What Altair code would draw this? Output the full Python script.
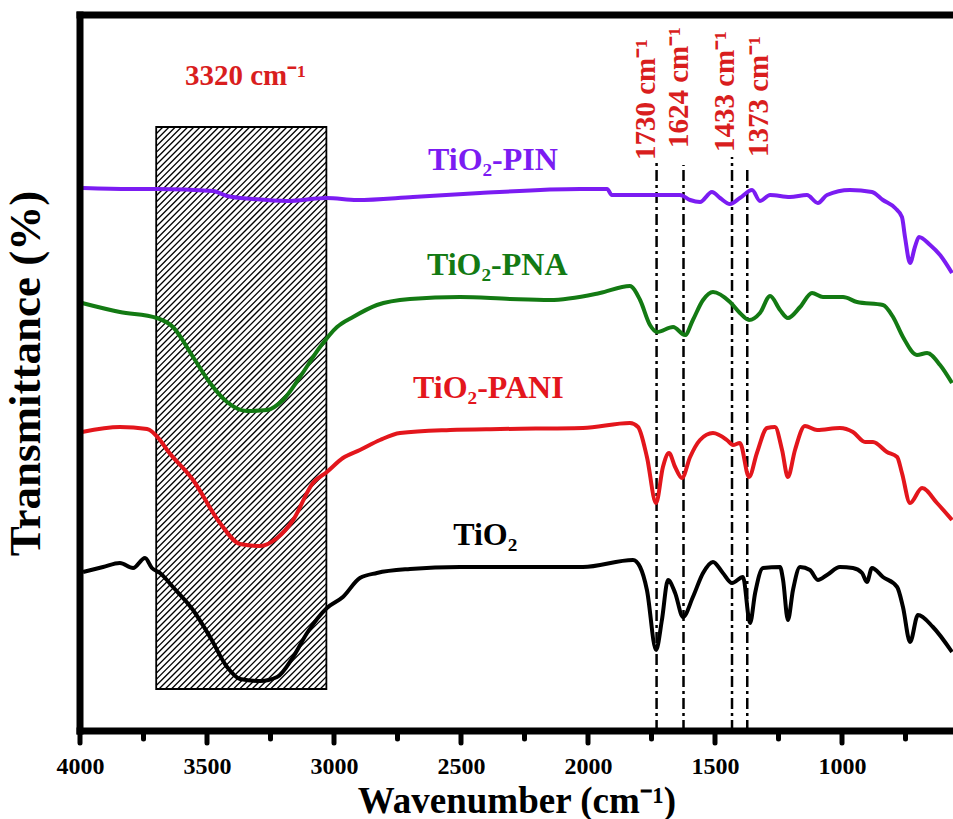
import altair as alt
import pandas as pd

# ---------------- data ----------------
series_names = ["TiO₂-PIN", "TiO₂-PNA", "TiO₂-PANI", "TiO₂"]
series_colors = ["#7B1CF2", "#137A13", "#E3161C", "#000000"]

wn_tio2 = [3988, 3909, 3843, 3791, 3744, 3717, 3685, 3634, 3555, 3488, 3421, 3370, 3291, 3224,
           3161, 3106, 3028, 2965, 2898, 2831, 2701, 2504, 2307, 2020, 1823, 1795, 1768, 1732,
           1709, 1685, 1657, 1626, 1587, 1547, 1508, 1469, 1433, 1390, 1362, 1342, 1311, 1244,
           1232, 1213, 1193, 1165, 1126, 1095, 1059, 1008, 957, 921, 902, 882, 839, 783, 760,
           732, 701, 642, 567]
t_tio2 = [159, 164, 168, 163, 173, 163, 158, 144, 121, 94, 64, 52, 50, 54,
          74, 98, 123, 134, 153, 158, 162, 164, 164, 164, 171, 164, 141, 81,
          111, 151, 138, 114, 134, 158, 169, 158, 148, 154, 108, 138, 163, 164,
          151, 111, 141, 164, 161, 151, 156, 164, 163, 158, 149, 163, 154, 144, 124,
          89, 116, 104, 79]

wn_pani = [3992, 3843, 3736, 3685, 3657, 3555, 3449, 3370, 3291, 3224, 3161, 3083, 3028, 2965,
           2898, 2819, 2740, 2543, 2346, 2020, 1835, 1803, 1768, 1732, 1705, 1681, 1657, 1630,
           1598, 1559, 1508, 1453, 1429, 1402, 1366, 1335, 1295, 1264, 1236, 1213, 1185, 1146,
           1098, 1008, 957, 909, 878, 823, 783, 764, 732, 685, 626, 567]
t_pani = [299, 304, 302, 291, 281, 251, 208, 187, 185, 193, 211, 248, 259, 273,
          281, 291, 298, 301, 302, 303, 308, 304, 274, 228, 264, 278, 264, 253,
          274, 291, 298, 291, 286, 288, 254, 278, 303, 304, 281, 254, 281, 305,
          301, 303, 299, 289, 289, 279, 274, 258, 228, 243, 228, 211]

wn_pna = [3992, 3843, 3697, 3634, 3555, 3488, 3421, 3343, 3264, 3201, 3134, 3055, 2988, 2925,
          2831, 2701, 2504, 2307, 2150, 1953, 1835, 1795, 1756, 1728, 1665, 1618, 1587, 1547,
          1508, 1441, 1402, 1366, 1323, 1283, 1244, 1213, 1165, 1118, 1075, 996, 941, 839,
          799, 760, 705, 665, 614, 567]
t_pna = [428, 419, 413, 404, 374, 348, 329, 320, 321, 331, 354, 384, 404, 414,
         426, 432, 434, 432, 431, 438, 445, 431, 406, 399, 404, 396, 411, 431,
         439, 429, 418, 411, 418, 435, 421, 413, 424, 438, 434, 434, 429, 426,
         414, 394, 376, 378, 366, 348]

wn_pin = [3988, 3803, 3697, 3476, 3421, 3319, 3185, 3028, 2910, 2689, 2425, 2031, 1925, 1906,
          1638, 1598, 1559, 1512, 1480, 1441, 1402, 1354, 1323, 1283, 1205, 1138, 1095, 1059,
          969, 882, 839, 791, 764, 752, 732, 713, 697, 653, 614, 567]
t_pin = [543, 542, 542, 540, 535, 532, 530, 533, 531, 534, 538, 542, 542, 536,
         536, 531, 529, 539, 533, 527, 533, 541, 530, 536, 534, 536, 528, 536,
         541, 539, 531, 523, 514, 494, 468, 484, 494, 486, 476, 458]

label_x = [2630, 2634, 2689, 2531]
label_y = [561, 456, 333, 186]

peak_wn = [1730, 1624, 1433, 1373]
peak_rule_top = [569, 566, 574, 561]
peak_text = ["1730 cm⁻¹", "1624 cm⁻¹", "1433 cm⁻¹", "1373 cm⁻¹"]
peak_text_x = [1772, 1642, 1461, 1327]
peak_text_y = [571, 583, 579, 574]

band_text = "3320 cm⁻¹"
band_text_x = 3587
band_text_y = 646
band_x = [3700, 3030]
band_y = [42, 604]

major_ticks = [4000, 3500, 3000, 2500, 2000, 1500, 1000]
minor_ticks = [3750, 3250, 2750, 2250, 1750, 1250, 750]

# ---------------- layout ----------------
X_MAX, X_MIN = 4000, 563
Y_LOW, Y_TOP = -20, 716          # frame runs from 0 to 716; below 0 is room for the ticks
W, H = 873, 736
FONT = "Liberation Serif"
RED = "#D91E1E"

xscale = alt.Scale(domain=[X_MAX, X_MIN], nice=False, zero=False)
yscale = alt.Scale(domain=[Y_LOW, Y_TOP], nice=False, zero=False)
cscale = alt.Scale(domain=series_names, range=series_colors)

rows = []
for name, wn, t in zip(series_names, [wn_pin, wn_pna, wn_pani, wn_tio2],
                       [t_pin, t_pna, t_pani, t_tio2]):
    for a, b in zip(wn, t):
        rows.append({"series": name, "wn": a, "t": b})
spectra = pd.DataFrame(rows)

x_axis = alt.Axis(values=major_ticks, format="d", labelFont=FONT, labelFontWeight="bold",
                  labelFontSize=24, labelColor="black", labelFlush=False,
                  labelBaseline="alphabetic", labelPadding=22,
                  ticks=False, tickSize=0, domain=False, grid=False,
                  title="Wavenumber (cm⁻¹)", titleFont=FONT, titleFontWeight="bold",
                  titleFontSize=37, titleColor="black", titleBaseline="alphabetic",
                  titleX=W / 2, titleY=61)
y_axis = alt.Axis(ticks=False, labels=False, grid=False, domain=False,
                  title="Transmittance (%)", titleFont=FONT,
                  titleFontWeight="bold", titleFontSize=45, titleColor="black",
                  titleX=-32, titleY=358)

# hatch pattern for the band (decoration) in data space
k = W / (X_MAX - X_MIN)
u0, u1 = (X_MAX - band_x[0]) * k, (X_MAX - band_x[1]) * k
y0, y1 = band_y
spacing = 6.2
hatch = []
c = y0 - u1
while c < y1 - u0:
    ua = max(u0, y0 - c)
    ub = min(u1, y1 - c)
    if ua < ub:
        hatch.append({"xa": X_MAX - ua / k, "ya": ua + c, "xb": X_MAX - ub / k, "yb": ub + c})
    c += spacing
hatch_df = pd.DataFrame(hatch)

hatch_layer = alt.Chart(hatch_df).mark_rule(color="black", strokeWidth=1.3).encode(
    x=alt.X("xa:Q", scale=xscale, axis=x_axis), x2="xb:Q",
    y=alt.Y("ya:Q", scale=yscale, axis=y_axis), y2="yb:Q")

band_df = pd.DataFrame({"x": [band_x[0]], "x2": [band_x[1]], "y": [band_y[0]], "y2": [band_y[1]]})
band_layer = alt.Chart(band_df).mark_rect(fillOpacity=0, stroke="black", strokeWidth=1.8).encode(
    x=alt.X("x:Q", scale=xscale), x2="x2:Q", y=alt.Y("y:Q", scale=yscale), y2="y2:Q")

lines = alt.Chart(spectra).mark_line(strokeWidth=4, interpolate="monotone").encode(
    x=alt.X("wn:Q", scale=xscale),
    y=alt.Y("t:Q", scale=yscale),
    color=alt.Color("series:N", scale=cscale, legend=None),
    detail="series:N")

labels_df = pd.DataFrame({"series": series_names, "x": label_x, "y": label_y})
labels = alt.Chart(labels_df).mark_text(font=FONT, fontWeight="bold", fontSize=32, align="left",
                                        baseline="alphabetic").encode(
    x=alt.X("x:Q", scale=xscale), y=alt.Y("y:Q", scale=yscale),
    text="series:N", color=alt.Color("series:N", scale=cscale, legend=None))

peaks_df = pd.DataFrame({"wn": peak_wn, "top": peak_rule_top, "base": [0] * 4,
                         "text": peak_text, "tx": peak_text_x, "ty": peak_text_y})
peak_rules = alt.Chart(peaks_df).mark_rule(color="black", strokeWidth=2.5,
                                           strokeDash=[11, 4, 3, 4]).encode(
    x=alt.X("wn:Q", scale=xscale), y=alt.Y("base:Q", scale=yscale), y2="top:Q")
peak_texts = alt.Chart(peaks_df).mark_text(font=FONT, fontWeight="bold", fontSize=29, color=RED,
                                           angle=270, align="left", baseline="middle").encode(
    x=alt.X("tx:Q", scale=xscale), y=alt.Y("ty:Q", scale=yscale), text="text:N")

band_label = alt.Chart(pd.DataFrame({"x": [band_text_x], "y": [band_text_y], "text": [band_text]})
                       ).mark_text(font=FONT, fontWeight="bold", fontSize=29, color=RED,
                                   align="left", baseline="alphabetic").encode(
    x=alt.X("x:Q", scale=xscale), y=alt.Y("y:Q", scale=yscale), text="text:N")

# frame: left, top and bottom (the right edge lies outside the picture)
frame_df = pd.DataFrame({"x": [X_MAX, X_MAX, X_MAX], "x2": [X_MAX, X_MIN, X_MIN],
                         "y": [0, Y_TOP, 0], "y2": [Y_TOP, Y_TOP, 0]})
frame = alt.Chart(frame_df).mark_rule(color="black", strokeWidth=7, strokeCap="square").encode(
    x=alt.X("x:Q", scale=xscale), x2="x2:Q", y=alt.Y("y:Q", scale=yscale), y2="y2:Q")

# tick marks (drawn as rules through the scales)
tick_rows = [{"x": v, "y": 0, "y2": -12} for v in major_ticks] + \
            [{"x": v, "y": 0, "y2": -8} for v in minor_ticks]
ticks_layer = alt.Chart(pd.DataFrame(tick_rows)).mark_rule(
    color="black", strokeWidth=5, strokeCap="round").encode(
    x=alt.X("x:Q", scale=xscale), y=alt.Y("y:Q", scale=yscale), y2="y2:Q")

chart = alt.layer(hatch_layer, band_layer, peak_rules, lines, labels, peak_texts, band_label,
                  frame, ticks_layer).properties(
    width=W, height=H,
    padding={"left": 80, "top": 15, "right": 0, "bottom": 68},
    autosize=alt.AutoSizeParams(type="none"),
    background="white",
).configure_view(stroke=None)

chart.save("out.html", embed_options={"renderer": "svg", "actions": False})
